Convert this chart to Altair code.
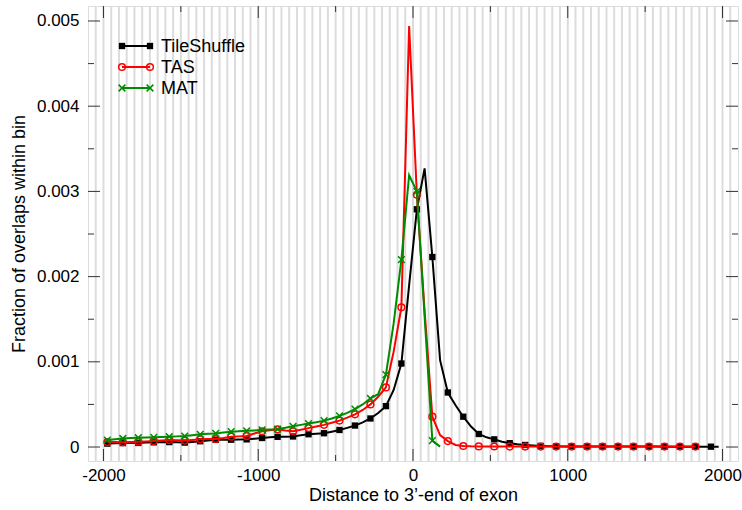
import altair as alt
import pandas as pd

FONT = "Liberation Sans"

series_names = ["TileShuffle", "TAS", "MAT"]
series_colors = ["#000000", "#ff0000", "#008c00"]

# bin centres (50-unit bins)
x_tile = list(range(-1975, 2000, 50))
x_tas = list(range(-1975, 1850, 50))
x_mat = list(range(-1975, 200, 50))

y_tile = [
    0.000040, 0.000044, 0.000046, 0.000048, 0.000048, 0.000052, 0.000055, 0.000057,
    0.000058, 0.000056, 0.000052, 0.000060, 0.000068, 0.000076, 0.000084, 0.000085,
    0.000086, 0.000088, 0.000090, 0.000098, 0.000106, 0.000114, 0.000120, 0.000122,
    0.000124, 0.000138, 0.000150, 0.000156, 0.000162, 0.000180, 0.000200, 0.000225,
    0.000252, 0.000290, 0.000335, 0.000400, 0.000480, 0.000670, 0.000980, 0.001900,
    0.002790, 0.003270, 0.002230, 0.001020, 0.000640, 0.000490, 0.000356, 0.000240,
    0.000153, 0.000114, 0.000090, 0.000062, 0.000045, 0.000032, 0.000024, 0.000018,
    0.000013, 0.000010, 0.000008, 0.000007, 0.000007, 0.000006, 0.000006, 0.000006,
    0.000006, 0.000005, 0.000005, 0.000005, 0.000005, 0.000005, 0.000005, 0.000005,
    0.000004, 0.000004, 0.000004, 0.000004, 0.000004, 0.000004, 0.000004, 0.000004,
]
y_tas = [
    0.000058, 0.000058, 0.000056, 0.000058, 0.000062, 0.000066, 0.000070, 0.000076,
    0.000082, 0.000080, 0.000076, 0.000082, 0.000090, 0.000093, 0.000094, 0.000106,
    0.000121, 0.000125, 0.000129, 0.000158, 0.000185, 0.000198, 0.000208, 0.000195,
    0.000185, 0.000202, 0.000222, 0.000240, 0.000260, 0.000285, 0.000310, 0.000345,
    0.000384, 0.000435, 0.000500, 0.000590, 0.000700, 0.001120, 0.001640, 0.004940,
    0.002960, 0.001600, 0.000356, 0.000140, 0.000070, 0.000024, 0.000012, 0.000008,
    0.000007, 0.000006, 0.000006, 0.000006, 0.000005, 0.000005, 0.000005, 0.000005,
    0.000005, 0.000005, 0.000005, 0.000005, 0.000005, 0.000005, 0.000005, 0.000005,
    0.000005, 0.000005, 0.000005, 0.000005, 0.000005, 0.000005, 0.000005, 0.000005,
    0.000005, 0.000005, 0.000005, 0.000005, 0.000005,
]
y_mat = [
    0.000082, 0.000092, 0.000100, 0.000105, 0.000109, 0.000112, 0.000114, 0.000118,
    0.000121, 0.000125, 0.000129, 0.000139, 0.000149, 0.000155, 0.000160, 0.000170,
    0.000180, 0.000185, 0.000190, 0.000195, 0.000202, 0.000206, 0.000210, 0.000225,
    0.000243, 0.000260, 0.000275, 0.000292, 0.000310, 0.000335, 0.000365, 0.000400,
    0.000445, 0.000500, 0.000570, 0.000620, 0.000850, 0.001450, 0.002200, 0.003190,
    0.003000, 0.001530, 0.000075, 0.000005,
]

x_major = [-2000, -1000, 0, 1000, 2000]
x_minor = [-1500, -500, 500, 1500]
y_major = [0, 0.001, 0.002, 0.003, 0.004, 0.005]
y_minor = [0.0005, 0.0015, 0.0025, 0.0035, 0.0045]
grid_x = list(range(-2050, 2100, 50))

W, H = 650, 455

rows = []
for name, xs, ys in [("TileShuffle", x_tile, y_tile), ("TAS", x_tas, y_tas), ("MAT", x_mat, y_mat)]:
    for i, (xv, yv) in enumerate(zip(xs, ys)):
        rows.append({"series": name, "x": xv, "y": yv, "order": i, "marker": i % 2 == 0})
df = pd.DataFrame(rows)

xscale = alt.Scale(domain=[-2100, 2100], nice=False, zero=False)
yscale = alt.Scale(domain=[-0.000164, 0.005176], nice=False, zero=False)

x_axis = alt.Axis(
    values=x_major, labelExpr="datum.value", title="Distance to 3’-end of exon",
    ticks=False, domain=False, grid=False, labelFont=FONT, labelFontSize=17,
    labelColor="black", labelPadding=6, titleFont=FONT, titleFontSize=18,
    titleFontWeight="normal", titleColor="black", titlePadding=3,
)
y_axis = alt.Axis(
    values=y_major, labelExpr="datum.value", title="Fraction of overlaps within bin",
    ticks=False, domain=False, grid=False, labelFont=FONT, labelFontSize=17,
    labelColor="black", labelPadding=9, titleFont=FONT, titleFontSize=18,
    titleFontWeight="normal", titleColor="black", titlePadding=8,
)

X = lambda f: alt.X(f, scale=xscale, axis=x_axis)
Y = lambda f: alt.Y(f, scale=yscale, axis=y_axis)

layers = []

# vertical grid
layers.append(
    alt.Chart(pd.DataFrame({"g": grid_x})).mark_rule(color="#dcdcdc", strokeWidth=2)
    .encode(x=X("g:Q"))
)

# series
shapes = {
    "TileShuffle": dict(shape="square", filled=True, size=40, strokeWidth=0),
    "TAS": dict(shape="circle", filled=False, size=45, strokeWidth=1.5),
    "MAT": dict(shape="M-1,-1L1,1M1,-1L-1,1", filled=False, size=45, strokeWidth=1.5),
}
for name, col in zip(series_names, series_colors):
    base = alt.Chart(df).transform_filter(alt.datum.series == name)
    layers.append(
        base.mark_line(color=col, strokeWidth=2).encode(x=X("x:Q"), y=Y("y:Q"), order="order:Q")
    )
    layers.append(
        base.transform_filter(alt.datum.marker).mark_point(color=col, opacity=1, **shapes[name])
        .encode(x=X("x:Q"), y=Y("y:Q"))
    )

# inside tick marks (mirrored on all four sides)
tick_col = "#333333"
for vals, ln in [(x_major, 12), (x_minor, 6)]:
    d = pd.DataFrame({"v": vals})
    layers.append(alt.Chart(d).mark_rule(color=tick_col, strokeWidth=1)
                  .encode(x=X("v:Q"), y=alt.value(H), y2=alt.value(H - ln)))
    layers.append(alt.Chart(d).mark_rule(color=tick_col, strokeWidth=1)
                  .encode(x=X("v:Q"), y=alt.value(0), y2=alt.value(ln)))
for vals, ln in [(y_major, 12), (y_minor, 6)]:
    d = pd.DataFrame({"v": vals})
    layers.append(alt.Chart(d).mark_rule(color=tick_col, strokeWidth=1)
                  .encode(y=Y("v:Q"), x=alt.value(0), x2=alt.value(ln)))
    layers.append(alt.Chart(d).mark_rule(color=tick_col, strokeWidth=1)
                  .encode(y=Y("v:Q"), x=alt.value(W), x2=alt.value(W - ln)))

# legend (top-left, inside the plot)
for i, name in enumerate(series_names):
    col = series_colors[i]
    ly = 40 + 21 * i
    d = pd.DataFrame({"series": [name]})
    layers.append(alt.Chart(d).mark_rule(color=col, strokeWidth=2)
                  .encode(x=alt.value(34), x2=alt.value(62), y=alt.value(ly)))
    for lx in (34, 62):
        layers.append(alt.Chart(d).mark_point(color=col, opacity=1, **shapes[name])
                      .encode(x=alt.value(lx), y=alt.value(ly)))
    layers.append(alt.Chart(d).mark_text(align="left", baseline="middle", font=FONT,
                                         fontSize=18, color="black")
                  .encode(x=alt.value(73), y=alt.value(ly + 1), text="series:N"))

chart = alt.layer(*layers).properties(
    width=W, height=H,
    autosize=alt.AutoSizeParams(type="none"),
    padding={"left": 88, "top": 6, "right": 4, "bottom": 49},
).configure_view(stroke="black", strokeWidth=1.5).configure(background="white")

chart.save("out.html", embed_options={"renderer": "svg", "actions": False})
